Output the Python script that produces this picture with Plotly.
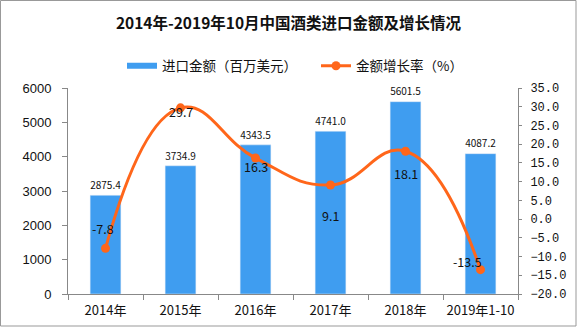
import plotly.graph_objects as go

categories = ["2014年", "2015年", "2016年", "2017年", "2018年", "2019年1-10"]
import_value = [2875.4, 3734.9, 4343.5, 4741.0, 5601.5, 4087.2]
growth_rate = [-7.8, 29.7, 16.3, 9.1, 18.1, -13.5]
left_ticks = [0, 1000, 2000, 3000, 4000, 5000, 6000]
right_ticks = [-20, -15, -10, -5, 0, 5, 10, 15, 20, 25, 30, 35]

FONT = "Noto Sans CJK SC"
BAR_C = "#3F9DF0"
LINE_C = "#FF661A"

fig = go.Figure()
fig.add_trace(go.Bar(
    x=categories, y=import_value, name="进口金额（百万美元）",
    marker_color=BAR_C, width=0.41, showlegend=False,
    text=[f"{v:.1f}" for v in import_value], textposition="outside",
    textfont=dict(size=12.5, color="#111", family=FONT), cliponaxis=False,
))
# legend entry for bars (wide rectangle like the reference)
fig.add_trace(go.Scatter(
    x=[None], y=[None], name="进口金额（百万美元）", mode="lines",
    line=dict(color=BAR_C, width=6), legend="legend",
))
fig.add_trace(go.Scatter(
    x=categories, y=growth_rate, name="金额增长率（%）", yaxis="y2",
    mode="lines+markers", line=dict(color=LINE_C, width=3, shape="spline", smoothing=1.3),
    marker=dict(size=9, color=LINE_C), legend="legend2",
))

shifts = [20, -4, -8, -30, -22, 8]
xshifts = [-3, 0, 0, 0, 0, -13]
for c, v, s, xs in zip(categories, growth_rate, shifts, xshifts):
    fig.add_annotation(x=c, y=v, yref="y2", text=f"{v:.1f}", showarrow=False,
                       yshift=s, xshift=xs, font=dict(size=12.5, color="#111", family=FONT))

axis_common = dict(showline=True, linecolor="#888", linewidth=1, showgrid=False,
                   zeroline=False, ticks="outside", tickcolor="#888", automargin=False)

legend_common = dict(orientation="h", y=1.107, yanchor="middle", xanchor="left",
                     bgcolor="rgba(0,0,0,0)", itemwidth=30,
                     font=dict(size=13.5, color="#111", family=FONT))

fig.update_layout(
    width=577, height=327,
    margin=dict(l=68, r=59, t=88, b=33),
    paper_bgcolor="white", plot_bgcolor="white",
    title=dict(text="<b>2014年-2019年10月中国酒类进口金额及增长情况</b>", x=0.5, xanchor="center",
               y=0.927, yanchor="middle", font=dict(size=15.5, color="#111", family=FONT)),
    legend=dict(x=(122 - 68) / 450, **legend_common),
    legend2=dict(x=(316 - 68) / 450, **legend_common),
    xaxis=dict(type="category", tickson="boundaries", tickangle=0, ticklen=5,
               ticklabelstandoff=4,
               tickfont=dict(size=13, color="#111", family=FONT), **axis_common),
    yaxis=dict(range=[0, 6000], tickvals=left_ticks, ticklen=5, ticklabelstandoff=8,
               tickfont=dict(size=13, color="#111", family="Liberation Sans"), **axis_common),
    yaxis2=dict(range=[-20, 35], tickvals=right_ticks, tickformat=".1f",
                overlaying="y", side="right", ticklen=3, ticklabelstandoff=6,
                tickfont=dict(size=12, color="#111", family="Liberation Mono"), **axis_common),
    shapes=[dict(type="rect", xref="paper", yref="paper", x0=-67.5/450, x1=1+58/450,
                 y0=-32/206, y1=1+87.5/206, line=dict(color="#999", width=1))],
)

fig.write_html("out.html")
